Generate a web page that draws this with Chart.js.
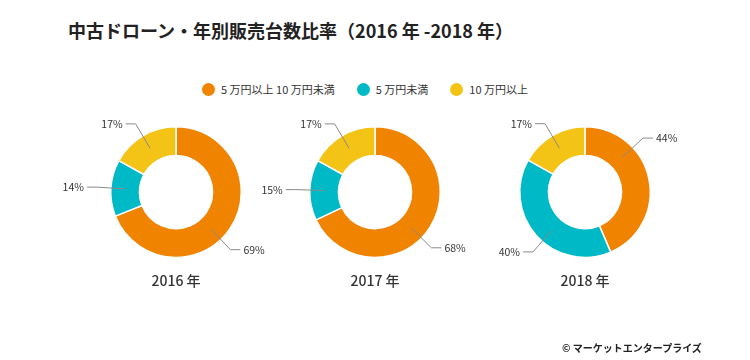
<!DOCTYPE html>
<html lang="ja">
<head>
<meta charset="utf-8">
<script src="https://cdn.jsdelivr.net/npm/chart.js@4"></script>
<style>
body{margin:0;background:#fff;font-family:"Noto Sans CJK JP","Noto Sans",sans-serif;color:#222}
#wrap{position:relative;width:750px;height:360px;overflow:hidden}
#title{position:absolute;left:68px;top:17px;font-size:18px;font-weight:bold;white-space:nowrap}
#legend{position:absolute;top:78px;left:202px;font-size:11px;color:#333;white-space:nowrap}
#legend span{display:inline-block;vertical-align:middle}
#legend .dot{width:13px;height:13px;border-radius:50%;margin-right:6px}
#legend .item{margin-right:22px}
#copy{position:absolute;left:562px;top:340px;font-size:10px;font-weight:bold;white-space:nowrap}
canvas{position:absolute}
</style>
</head>
<body>
<div id="wrap">
<div id="title">中古ドローン・年別販売台数比率（2016 年 -2018 年）</div>
<div id="legend"></div>
<canvas id="c2016" width="240" height="240"></canvas>
<canvas id="c2017" width="240" height="240"></canvas>
<canvas id="c2018" width="240" height="240"></canvas>
<div id="copy">© マーケットエンタープライズ</div>
</div>
<script>
'use strict'

// data
let categories=['5 万円以上 10 万円未満','5 万円未満','10 万円以上'];
let years=['2016 年','2017 年','2018 年'];
let values2016=[69,14,17];
let values2017=[68,15,17];
let values2018=[44,40,17];

let colors=['#F08300','#00B9C6','#F3C315'];
// where along each slice the leader line starts (0..1)
let labelAt={'2016 年':[0.55,0.5,0.5],'2017 年':[0.55,0.5,0.5],'2018 年':[0.3,0.45,0.5]};
let centersX=[176,375,585];
let canvasTop=86;

// legend
let legendEl=document.getElementById('legend');
for(let i=0;i<categories.length;i++){
    let item=document.createElement('span');
    item.className='item';
    item.innerHTML='<span class="dot" style="background:'+colors[i]+'"></span><span>'+categories[i]+'</span>';
    legendEl.appendChild(item);
}

let calloutPlugin={
    id:'callout',
    afterDatasetsDraw(chart){
        let ctx=chart.ctx;
        let meta=chart.getDatasetMeta(0);
        let fr=labelAt[chart.options.plugins.title.text];
        ctx.save();
        ctx.font='10.5px "Noto Sans CJK JP", "Noto Sans", sans-serif';
        ctx.textBaseline='middle';
        meta.data.forEach(function(arc,i){
            let p=arc.getProps(['x','y','startAngle','endAngle','innerRadius','outerRadius'],true);
            let a=p.startAngle+(p.endAngle-p.startAngle)*fr[i];
            let c=Math.cos(a),s=Math.sin(a);
            let midR=(p.innerRadius+p.outerRadius)/2;
            let x0=p.x+midR*c,y0=p.y+midR*s;
            let x1=p.x+(p.outerRadius+14)*c,y1=p.y+(p.outerRadius+14)*s;
            let side=c>=0?1:-1;
            let x2=x1+side*10;
            ctx.strokeStyle='#8a8a8a';
            ctx.lineWidth=1;
            ctx.beginPath();
            ctx.moveTo(x0,y0);ctx.lineTo(x1,y1);ctx.lineTo(x2,y1);
            ctx.stroke();
            ctx.fillStyle='#333';
            ctx.textAlign=side>0?'left':'right';
            ctx.fillText(chart.data.datasets[0].data[i]+'%',x2+side*3,y1);
        });
        ctx.restore();
    }
};

function drawDonut(id,year,values,cx){
    let cv=document.getElementById(id);
    cv.style.left=(cx-120)+'px';
    cv.style.top=canvasTop+'px';
    new Chart(cv.getContext('2d'),{
        type:'doughnut',
        data:{
            labels:categories,
            datasets:[{
                data:values,
                backgroundColor:colors,
                borderColor:'#fff',
                borderWidth:1.5,
                hoverOffset:0
            }]
        },
        options:{
            responsive:false,
            animation:false,
            devicePixelRatio:1,
            cutout:'56%',
            layout:{padding:{top:34,left:54,right:54,bottom:37}},
            plugins:{
                legend:{display:false},
                tooltip:{enabled:false},
                title:{
                    display:true,
                    position:'bottom',
                    text:year,
                    color:'#333',
                    font:{size:14,family:'"Noto Sans CJK JP", "Noto Sans", sans-serif',weight:'500'},
                    padding:{top:8,bottom:0}
                }
            }
        },
        plugins:[calloutPlugin]
    });
}

drawDonut('c2016',years[0],values2016,centersX[0]);
drawDonut('c2017',years[1],values2017,centersX[1]);
drawDonut('c2018',years[2],values2018,centersX[2]);
</script>
</body>
</html>
